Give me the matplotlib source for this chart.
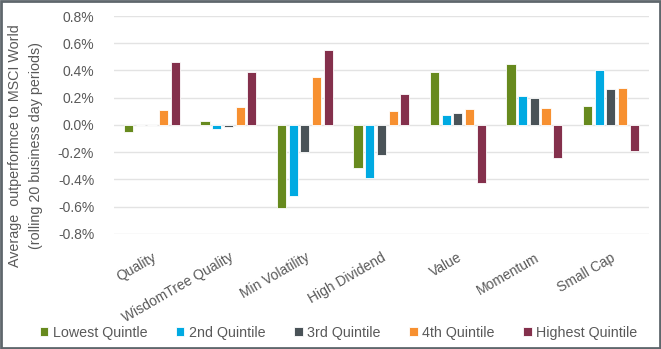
import matplotlib
matplotlib.use("Agg")
import matplotlib.pyplot as plt
import numpy as np
from matplotlib.patches import Rectangle

categories = ["Quality", "WisdomTree Quality", "Min Volatility", "High Dividend",
              "Value", "Momentum", "Small Cap"]
series_names = ["Lowest Quintle", "2nd Quintile", "3rd Quintile", "4th Quintile", "Highest Quintile"]
lowest = [-0.05, 0.03, -0.61, -0.32, 0.39, 0.45, 0.14]
second = [0.0, -0.03, -0.52, -0.39, 0.07, 0.21, 0.40]
third = [0.0, -0.013, -0.20, -0.22, 0.086, 0.20, 0.265]
fourth = [0.11, 0.13, 0.35, 0.10, 0.12, 0.125, 0.275]
highest = [0.46, 0.39, 0.55, 0.23, -0.43, -0.245, -0.195]
yticks = [-0.8, -0.6, -0.4, -0.2, 0.0, 0.2, 0.4, 0.6, 0.8]
colors = ["#678A1E", "#00AAE2", "#4A5358", "#F79030", "#84304C"]

plt.rcParams['font.family'] = ['Liberation Sans', 'DejaVu Sans']
fig = plt.figure(figsize=(6.61, 3.49), dpi=100)
ax = fig.add_axes([0.172, 0.330, 0.810, 0.624])

data = [lowest, second, third, fourth, highest]
x = np.arange(len(categories))
step = 0.153
w = 0.12
for i, (vals, c, name) in enumerate(zip(data, colors, series_names)):
    ax.bar(x + (i - 2) * step, vals, width=w, color=c, edgecolor="white",
           linewidth=0.6, label=name, zorder=3)

ax.set_xlim(-0.5, len(categories) - 0.5)
ax.set_ylim(-0.8, 0.8)
ax.set_yticks(yticks)
ax.set_yticklabels([f"{v:.1f}%" for v in yticks])
ax.yaxis.grid(True, color="#E3E3E3", linewidth=1.0, zorder=0)
ax.set_axisbelow(True)
for s in ax.spines.values():
    s.set_visible(False)
ax.tick_params(axis='both', length=0, labelsize=10, colors="#595959")
ax.tick_params(axis='y', pad=14)
ax.set_xticks(x)
ax.set_xticklabels(categories, rotation=30, ha='right', rotation_mode='anchor')
ax.tick_params(axis='x', pad=12)

txtc = "#595959"
fig.text(0.023, 0.582, "Average  outperformce to MSCI World", rotation=90,
         ha='center', va='center', fontsize=10.3, color=txtc)
fig.text(0.054, 0.582, "(rolling 20 business day periods)", rotation=90,
         ha='center', va='center', fontsize=10.3, color=txtc)

leg = fig.legend(loc='center', bbox_to_anchor=(0.512, 0.046), ncol=5, frameon=False,
                 fontsize=10.3, handlelength=0.6, handleheight=0.6, handletextpad=0.3,
                 columnspacing=2.0, labelcolor=txtc)

fig.patches.append(Rectangle((0.002, 0.003), 0.996, 0.994, transform=fig.transFigure,
                             fill=False, edgecolor="#5F676C", linewidth=2.0))
fig.savefig("out.png", dpi=100)
